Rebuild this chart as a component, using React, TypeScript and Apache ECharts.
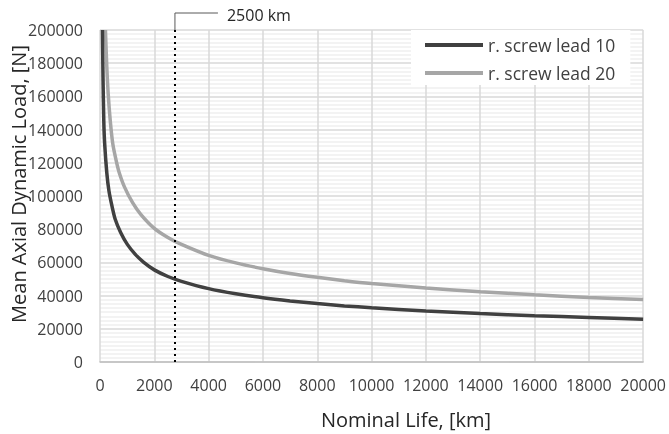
import React, { useEffect, useRef } from "react";
import * as echarts from "echarts";

// Nominal life [km] and mean axial dynamic load [N]
const lifeLead10 = [90, 110, 140, 170, 250, 330, 440, 560, 760, 1000, 1300, 1600, 2000, 2500, 3000, 4000, 5000, 6000, 7000, 8000, 9000, 10000, 12000, 14000, 16000, 18000, 20000];
const loadLead10 = [200000, 172000, 145000, 132000, 114000, 103000, 94000, 86000, 78000, 71000, 64800, 60200, 55500, 51500, 48600, 44200, 41100, 38700, 36800, 35200, 33800, 32700, 30700, 29200, 27900, 26800, 25700];

const lifeLead20 = [200, 250, 300, 380, 475, 600, 700, 900, 1200, 1500, 2000, 2500, 3000, 4000, 5000, 6000, 7000, 8000, 9000, 10000, 12000, 14000, 16000, 18000, 20000];
const loadLead20 = [200000, 178000, 162000, 145000, 131000, 121000, 114500, 105500, 96000, 89000, 80500, 75000, 70800, 64200, 59700, 56200, 53300, 51000, 49000, 47300, 44600, 42300, 40500, 38900, 37600];

const seriesNames = ["r. screw lead 10", "r. screw lead 20"];
const seriesColors = ["#404040", "#a6a6a6"];
const markerLife = 2760;
const markerLabel = "2500 km";
const xTicks = { min: 0, max: 20000, interval: 2000 };
const yTicks = { min: 0, max: 200000, interval: 20000 };

const FONT = "'Open Sans', sans-serif";

export default function App() {
  const ref = useRef<HTMLDivElement>(null);
  useEffect(() => {
    if (!ref.current) return;
    const chart = echarts.init(ref.current, null, { renderer: "svg" });
    const toPairs = (xs: number[], ys: number[]) => xs.map((x, i) => [x, ys[i]]);
    const plain = (v: number) => String(v);
    chart.setOption({
      animation: false,
      textStyle: { fontFamily: FONT },
      grid: { left: 100, right: 22, top: 30, bottom: 72, containLabel: false },
      xAxis: {
        type: "value",
        min: xTicks.min,
        max: xTicks.max,
        interval: xTicks.interval,
        axisLine: { show: true, lineStyle: { color: "#bfbfbf", width: 1.5 } },
        axisTick: { show: false },
        axisLabel: { color: "#404040", fontSize: 16, fontFamily: FONT, margin: 15, formatter: plain },
        splitLine: { show: true, lineStyle: { color: "#d9d9d9", width: 1.5 } },
      },
      yAxis: {
        type: "value",
        min: yTicks.min,
        max: yTicks.max,
        interval: yTicks.interval,
        axisLine: { show: false },
        axisTick: { show: false },
        axisLabel: { color: "#404040", fontSize: 16, fontFamily: FONT, margin: 17, formatter: plain },
        splitLine: { show: true, lineStyle: { color: "#d9d9d9", width: 1.5 } },
        minorTick: { show: false, splitNumber: 8 },
        minorSplitLine: { show: true, lineStyle: { color: "#efefef", width: 1.5 } },
      },
      legend: {
        left: 411,
        top: 30,
        orient: "vertical",
        backgroundColor: "#ffffff",
        padding: [6, 15, 3, 14],
        itemGap: 10,
        itemWidth: 58,
        itemHeight: 4,
        icon: "rect",
        textStyle: { color: "#404040", fontSize: 17.5, fontFamily: FONT, lineHeight: 18 },
        data: seriesNames,
      },
      series: [
        {
          name: seriesNames[0],
          type: "line",
          data: toPairs(lifeLead10, loadLead10),
          showSymbol: false,
          symbol: "none",
          smooth: 0.25,
          clip: true,
          lineStyle: { color: seriesColors[0], width: 3.5 },
          itemStyle: { color: seriesColors[0] },
          z: 3,
          markLine: {
            silent: true,
            symbol: "none",
            label: { show: false },
            lineStyle: { color: "#000000", type: [2, 4], width: 2 },
            data: [{ xAxis: markerLife }],
          },
        },
        {
          name: seriesNames[1],
          type: "line",
          data: toPairs(lifeLead20, loadLead20),
          showSymbol: false,
          symbol: "none",
          smooth: 0.25,
          clip: true,
          lineStyle: { color: seriesColors[1], width: 3.5 },
          itemStyle: { color: seriesColors[1] },
          z: 2,
        },
      ],
    });

    const px = chart.convertToPixel({ xAxisIndex: 0 }, markerLife) as number;
    const top = chart.convertToPixel({ yAxisIndex: 0 }, yTicks.max) as number;
    const bottom = chart.convertToPixel({ yAxisIndex: 0 }, yTicks.min) as number;
    chart.setOption({
      graphic: [
        {
          type: "polyline",
          shape: { points: [[px, top], [px, top - 17], [px + 43, top - 17]] },
          style: { stroke: "#595959", lineWidth: 1, fill: "none" },
          z: 10,
        },
        {
          type: "text",
          x: px + 52,
          y: top - 15,
          style: { text: markerLabel, fill: "#262626", font: `16px ${FONT}`, textVerticalAlign: "middle" },
          z: 10,
        },
        {
          type: "text",
          x: 18,
          y: (top + bottom) / 2 - 12,
          rotation: Math.PI / 2,
          style: {
            text: "Mean Axial Dynamic Load, [N]",
            fill: "#262626",
            font: `20px ${FONT}`,
            textAlign: "center",
            textVerticalAlign: "middle",
          },
        },
        {
          type: "text",
          x: 406,
          y: 419,
          style: {
            text: "Nominal Life, [km]",
            fill: "#262626",
            font: `20px ${FONT}`,
            textAlign: "center",
            textVerticalAlign: "middle",
          },
        },
      ],
    });
    return () => chart.dispose();
  }, []);
  return <div ref={ref} style={{ position: "fixed", left: 0, top: 0, width: 669, height: 434 }} />;
}
